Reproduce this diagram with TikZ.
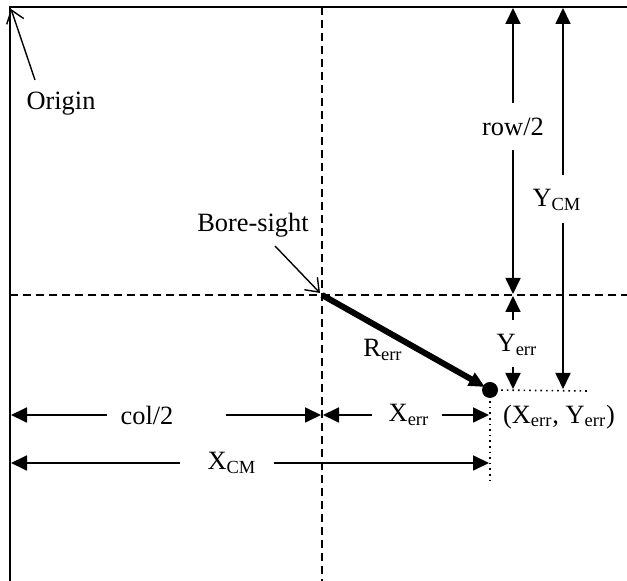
\documentclass[tikz,border=0pt]{standalone}
\usepackage{fontspec}
\setmainfont{Liberation Serif}
\usetikzlibrary{arrows.meta}
\tikzset{
  frame/.style={line width=1pt},
  guide/.style={line width=0.75pt, dash pattern=on 4pt off 2.5pt},
  dimarrow/.style={line width=0.9pt, -{Triangle[length=8pt,width=7.5pt]}},
  pointer/.style={line width=0.7pt, -{Straight Barb[length=6pt,width=9pt]}},
  errvec/.style={line width=3pt, -{Triangle[length=8pt,width=7pt]}},
  dotline/.style={line width=0.8pt, dotted},
  lbl/.style={inner sep=0pt, font=\fontsize{13.2}{15}\selectfont}
}
\begin{document}
\begin{tikzpicture}[x=0.5pt,y=-0.5pt]
\useasboundingbox (0,0) rectangle (627,581);
% frame
\coordinate (TL) at (10,7);
\coordinate (TR) at (627,7);
\coordinate (BL) at (10,581);
\draw[frame] (BL) -- (TL) -- (TR);
% guides
\coordinate (VT) at (322,7);
\coordinate (VB) at (322,581);
\coordinate (HL) at (10,295);
\coordinate (HR) at (627,295);
\draw[guide] (VT) -- (VB);
\draw[guide] (HL) -- (HR);
\coordinate (BS) at (322,295);
\coordinate (P) at (490,390);
% origin
\node[lbl] (origin) at (61,104) {Origin};
\coordinate (ot) at (35,80);
\coordinate (oh) at (11,9);
\draw[pointer] (ot) -- (oh);
% bore-sight
\node[lbl] (bore) at (253,225) {Bore-sight};
\coordinate (bt) at (275,246);
\coordinate (bh) at (320,293);
\draw[pointer] (bt) -- (bh);
% error vector
\coordinate (Ptip) at (485,387);
\draw[errvec] (BS) -- (Ptip);
\fill (P) circle[radius=8];
\node[lbl] (rerr) at (383,350) {R\textsubscript{err}};
% dotted lines
\coordinate (dh) at (588,391);
\coordinate (dv) at (490,484);
\draw[dotline] (P) -- (dh);
\draw[dotline] (P) -- (dv);
\node[lbl] (pt) at (559,417) {(X\textsubscript{err}, Y\textsubscript{err})};
% row/2
\node[lbl] (row) at (513,127) {row/2};
\coordinate (r1) at (513,103); \coordinate (r1h) at (513,8);
\coordinate (r2) at (513,150); \coordinate (r2h) at (513,294);
\draw[dimarrow] (r1) -- (r1h);
\draw[dimarrow] (r2) -- (r2h);
% Y_CM
\node[lbl] (ycm) at (557,200) {Y\textsubscript{CM}};
\coordinate (y1) at (563,175); \coordinate (y1h) at (563,8);
\coordinate (y2) at (563,223); \coordinate (y2h) at (563,389);
\draw[dimarrow] (y1) -- (y1h);
\draw[dimarrow] (y2) -- (y2h);
% Y_err
\node[lbl] (yerr) at (517,345) {Y\textsubscript{err}};
\coordinate (e1) at (513,320); \coordinate (e1h) at (513,296);
\coordinate (e2) at (513,367); \coordinate (e2h) at (513,389);
\draw[dimarrow] (e1) -- (e1h);
\draw[dimarrow] (e2) -- (e2h);
% col/2
\node[lbl] (col) at (147,415) {col/2};
\coordinate (c1) at (107,415); \coordinate (c1h) at (11,415);
\coordinate (c2) at (226,415); \coordinate (c2h) at (321,415);
\draw[dimarrow] (c1) -- (c1h);
\draw[dimarrow] (c2) -- (c2h);
% X_err
\node[lbl] (xerr) at (409,415) {X\textsubscript{err}};
\coordinate (x1) at (372,415); \coordinate (x1h) at (323,415);
\coordinate (x2) at (442,415); \coordinate (x2h) at (489,415);
\draw[dimarrow] (x1) -- (x1h);
\draw[dimarrow] (x2) -- (x2h);
% X_CM
\node[lbl] (xcm) at (232,463) {X\textsubscript{CM}};
\coordinate (m1) at (180,463); \coordinate (m1h) at (11,463);
\coordinate (m2) at (274,463); \coordinate (m2h) at (489,463);
\draw[dimarrow] (m1) -- (m1h);
\draw[dimarrow] (m2) -- (m2h);
\end{tikzpicture}
\end{document}
